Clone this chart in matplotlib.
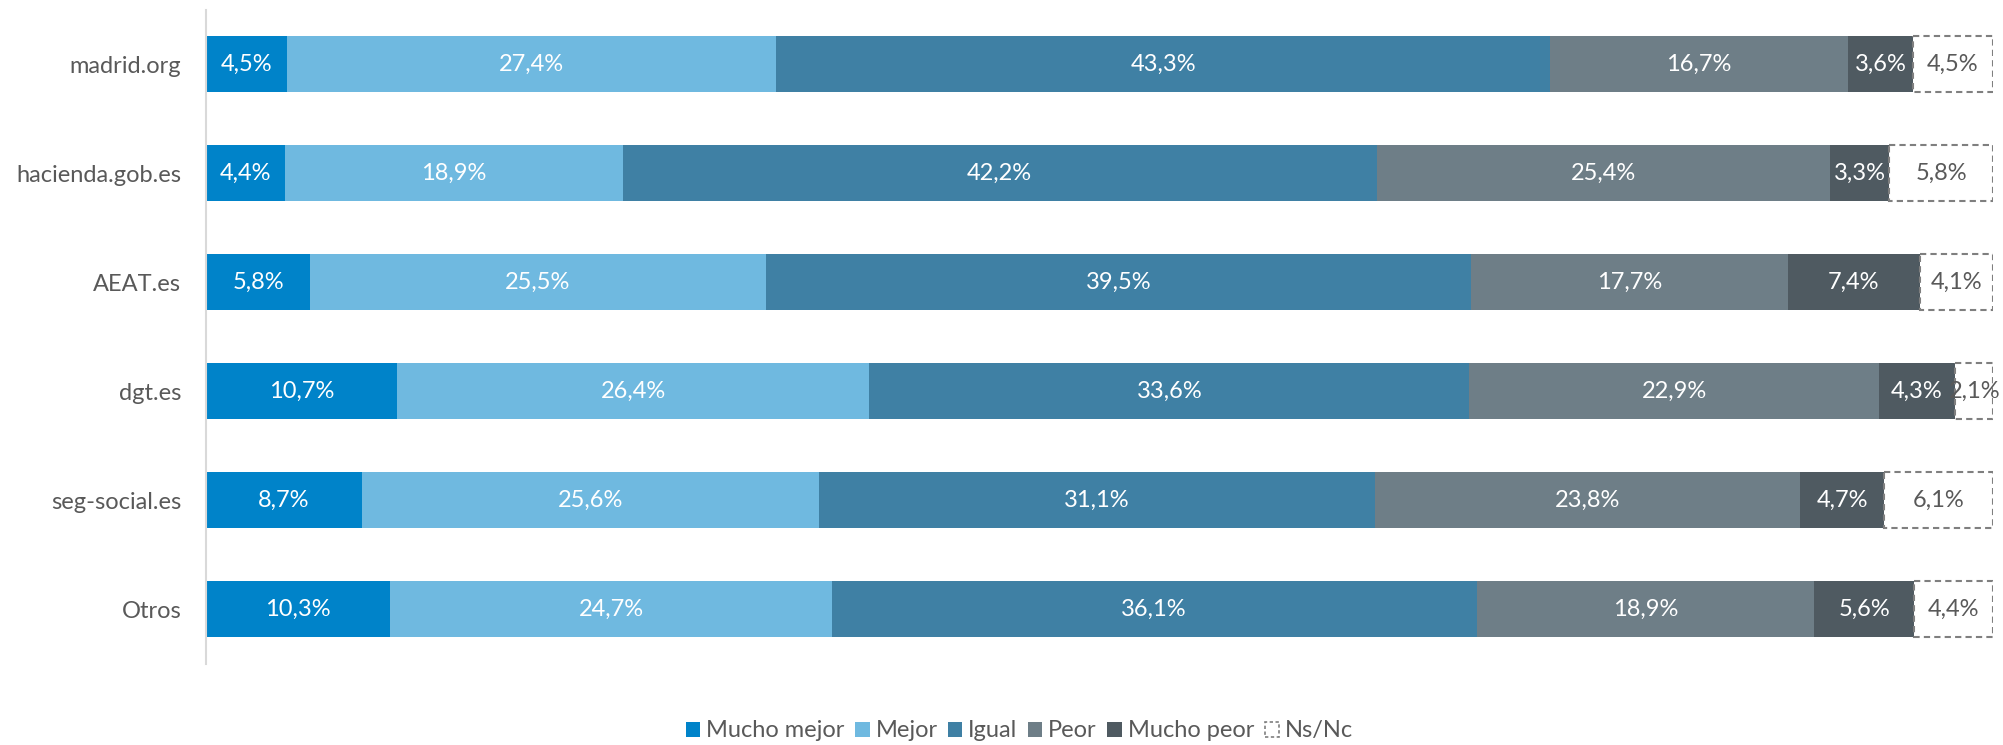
import matplotlib
matplotlib.use("Agg")
import matplotlib.pyplot as plt
from matplotlib.patches import Patch
import numpy as np

plt.rcParams['font.family'] = ['Lato', 'DejaVu Sans']

sites = ["madrid.org", "hacienda.gob.es", "AEAT.es", "dgt.es", "seg-social.es", "Otros"]
series = ["Mucho mejor", "Mejor", "Igual", "Peor", "Mucho peor", "Ns/Nc"]
mucho_mejor = [4.5, 4.4, 5.8, 10.7, 8.7, 10.3]
mejor = [27.4, 18.9, 25.5, 26.4, 25.6, 24.7]
igual = [43.3, 42.2, 39.5, 33.6, 31.1, 36.1]
peor = [16.7, 25.4, 17.7, 22.9, 23.8, 18.9]
mucho_peor = [3.6, 3.3, 7.4, 4.3, 4.7, 5.6]
ns_nc = [4.5, 5.8, 4.1, 2.1, 6.1, 4.4]

colors = ["#0083c9", "#6fb9e0", "#3f80a4", "#6e7e87", "#4f5a61", "white"]
values = [mucho_mejor, mejor, igual, peor, mucho_peor, ns_nc]

fig = plt.figure(figsize=(20.03, 7.45), dpi=100)
ax = fig.add_axes([0.103, 0.109, 0.892, 0.878])

y = np.arange(len(sites))
left = np.zeros(len(sites))
h = 0.51
for i, vals in enumerate(values):
    vals = np.array(vals)
    if i == 5:
        ax.barh(y, vals, h, left=left, color="white", edgecolor="#7f7f7f",
                linestyle=(0, (3, 2)), linewidth=1.5)
        txtcol = "#595959"
    else:
        ax.barh(y, vals, h, left=left, color=colors[i], edgecolor="none")
        txtcol = "white"
    for yy, l, v in zip(y, left, vals):
        ax.text(l + v / 2, yy, ("%.1f%%" % v).replace(".", ","), ha="center", va="center",
                color=txtcol, fontsize=17)
    left += vals

ax.set_xlim(0, 100)
ax.set_ylim(5.5, -0.5)
ax.set_yticks(y)
ax.set_yticklabels(sites, fontsize=17, color="#595959")
ax.set_xticks([])
ax.tick_params(axis="y", length=0, pad=18)
for s in ["top", "right", "bottom"]:
    ax.spines[s].set_visible(False)
ax.spines["left"].set_color("#d9d9d9")
ax.spines["left"].set_linewidth(1.5)

handles = [Patch(facecolor=c, edgecolor="none") for c in colors[:5]]
handles.append(Patch(facecolor="white", edgecolor="#7f7f7f", linestyle=(0, (2, 1.5)), linewidth=1.2))
fig.legend(handles, series, loc="center", bbox_to_anchor=(0.509, 0.019), ncol=6, frameon=False,
           fontsize=17, handlelength=0.6, handleheight=0.6, handletextpad=0.25, columnspacing=0.45,
           labelcolor="#595959")

fig.savefig("out.png", dpi=100)
